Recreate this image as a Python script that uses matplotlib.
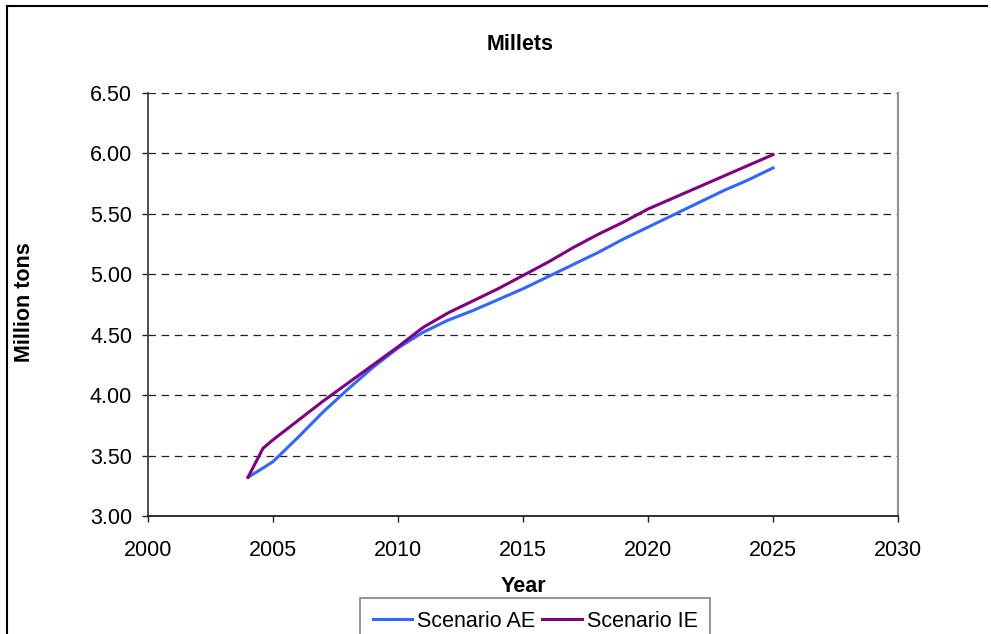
import matplotlib
matplotlib.use('Agg')
import matplotlib.pyplot as plt
from matplotlib.lines import Line2D

plt.rcParams['font.family'] = ['Liberation Sans', 'DejaVu Sans']

# Данные по просу (млн тонн)
years_ae = [2004, 2004.7, 2005, 2006, 2007, 2008, 2009, 2010, 2011, 2012, 2013, 2014,
            2015, 2016, 2017, 2018, 2019, 2020, 2021, 2022, 2023, 2024, 2025]
scenario_ae = [3.32, 3.41, 3.45, 3.65, 3.86, 4.05, 4.23, 4.39, 4.52, 4.62, 4.70, 4.79,
               4.88, 4.98, 5.08, 5.18, 5.29, 5.39, 5.49, 5.59, 5.69, 5.78, 5.88]

years_ie = [2004, 2004.6, 2005, 2006, 2007, 2008, 2009, 2010, 2011, 2012, 2013, 2014,
            2015, 2016, 2017, 2018, 2019, 2020, 2021, 2022, 2023, 2024, 2025]
scenario_ie = [3.32, 3.56, 3.63, 3.79, 3.95, 4.10, 4.25, 4.40, 4.56, 4.68, 4.78, 4.88,
               4.99, 5.10, 5.22, 5.33, 5.43, 5.54, 5.63, 5.72, 5.81, 5.90, 5.99]

x_ticks = [2000, 2005, 2010, 2015, 2020, 2025, 2030]
y_ticks = [3.0, 3.5, 4.0, 4.5, 5.0, 5.5, 6.0, 6.5]

W, H = 991, 634
fig = plt.figure(figsize=(W / 100, H / 100), dpi=100)
ax = fig.add_axes([148 / W, 1 - 516 / H, 750 / W, 423 / H])

ax.plot(years_ae, scenario_ae, color='#3366FF', linewidth=2.2, label='Scenario AE')
ax.plot(years_ie, scenario_ie, color='#800080', linewidth=2.2, label='Scenario IE')

ax.set_xlim(2000, 2030)
ax.set_ylim(3.0, 6.5)
ax.set_xticks(x_ticks)
ax.set_yticks(y_ticks)
ax.set_yticklabels([f'{v:.2f}' for v in y_ticks])

# пунктирная сетка по оси Y
for v in y_ticks[1:]:
    ax.axhline(v, color='#202020', linestyle=(0, (6, 4.5)), linewidth=0.9, zorder=0)

ax.spines['top'].set_visible(False)
ax.spines['right'].set_color('#909090')
ax.spines['right'].set_linewidth(1.5)
ax.spines['left'].set_color('#404040')
ax.spines['left'].set_linewidth(1.3)
ax.spines['bottom'].set_color('#202020')
ax.spines['bottom'].set_linewidth(1.3)

ax.tick_params(axis='both', direction='out', length=4.5, width=1, colors='#202020',
               labelsize=15.5, labelcolor='black')
ax.tick_params(axis='x', pad=13)
ax.tick_params(axis='y', pad=7)

fig.text(520 / W, 1 - 45 / H, 'Millets', fontsize=15.5, fontweight='bold',
         ha='center', va='center')
fig.text(25 / W, 1 - 302 / H, 'Million tons', fontsize=15.5, fontweight='bold',
         rotation=90, ha='center', va='center')
fig.text(523 / W, 1 - 586 / H, 'Year', fontsize=15.5, fontweight='bold',
         ha='center', va='center')

leg = fig.legend(loc='upper center', bbox_to_anchor=(535 / W, 1 - 598 / H), ncol=2,
                 frameon=True, fancybox=False, fontsize=15.5, handlelength=1.85,
                 handletextpad=0.2, columnspacing=0.35, borderpad=0.6,
                 borderaxespad=0)
leg.get_frame().set_edgecolor('#707070')
leg.get_frame().set_linewidth(1.3)

# рамка вокруг области диаграммы (слева и сверху)
fig.add_artist(Line2D([7 / W, 7 / W], [0, 1 - 6 / H], color='black', linewidth=1.5,
                      transform=fig.transFigure))
fig.add_artist(Line2D([7 / W, 987 / W], [1 - 6 / H, 1 - 6 / H], color='black',
                      linewidth=1.5, transform=fig.transFigure))

fig.savefig('out.png', dpi=100)
